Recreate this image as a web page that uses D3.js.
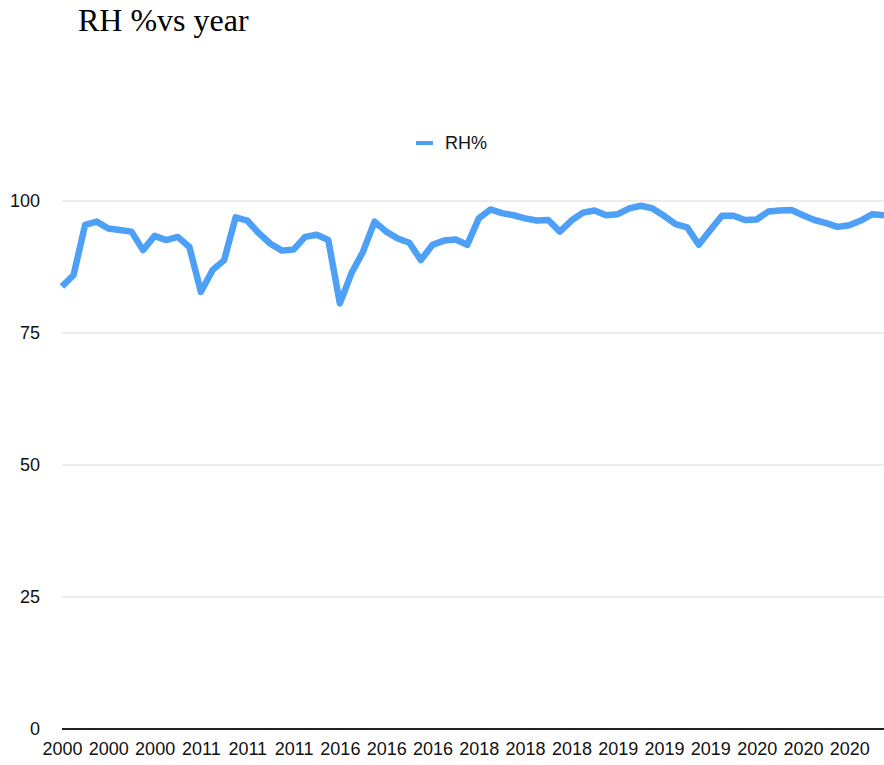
<!DOCTYPE html>
<html>
<head>
<meta charset="utf-8">
<script src="https://cdn.jsdelivr.net/npm/d3@7"></script>
<style>
  html, body { margin: 0; padding: 0; background: #fff; }
  svg { display: block; }
</style>
</head>
<body>
<svg id="chart" width="884" height="765"></svg>
<script>
const title = "RH %vs year";
const seriesName = "RH%";
const rhValues = [
  83.8, 86.0, 95.5, 96.1, 94.8, 94.5, 94.2, 90.7, 93.4, 92.6, 93.2, 91.3,
  82.8, 86.9, 88.8, 96.9, 96.3, 93.9, 91.9, 90.6, 90.8, 93.2, 93.6, 92.6,
  80.6, 86.3, 90.4, 96.1, 94.2, 92.9, 92.1, 88.8, 91.7, 92.5, 92.7, 91.7,
  96.7, 98.4, 97.7, 97.3, 96.7, 96.3, 96.4, 94.2, 96.3, 97.8, 98.2, 97.3,
  97.5, 98.6, 99.1, 98.6, 97.2, 95.6, 95.0, 91.7, 94.5, 97.2, 97.2, 96.4,
  96.5, 98.0, 98.2, 98.3, 97.3, 96.4, 95.8, 95.1, 95.4, 96.3, 97.5, 97.3
];
const tickLabels = [
  "2000", "2000", "2000", "2011", "2011", "2011", "2016", "2016", "2016",
  "2018", "2018", "2018", "2019", "2019", "2019", "2020", "2020", "2020"
];
const yTicks = [0, 25, 50, 75, 100];

(function () {
const svg = d3.select("#chart");
const mLeft = 62, mRight = 884, mTop = 201, mBottom = 729;

const x = d3.scalePoint().domain(d3.range(rhValues.length)).range([mLeft, mRight]);
const y = d3.scaleLinear().domain([0, 100]).range([mBottom, mTop]);

// title
svg.append("text")
  .attr("x", 78).attr("y", 31)
  .attr("font-family", "'Liberation Serif', 'Times New Roman', serif")
  .attr("font-size", 32).attr("fill", "#000")
  .text(title);

// gridlines
svg.append("g").selectAll("line")
  .data(yTicks.filter(d => d !== 0))
  .join("line")
  .attr("x1", mLeft).attr("x2", mRight)
  .attr("y1", d => y(d)).attr("y2", d => y(d))
  .attr("stroke", "#d9d9d9").attr("stroke-width", 1.2);

// y labels
svg.append("g").selectAll("text")
  .data(yTicks)
  .join("text")
  .attr("x", 40).attr("y", d => y(d))
  .attr("dy", "0.35em")
  .attr("text-anchor", "end")
  .attr("font-family", "'Liberation Sans', Arial, sans-serif")
  .attr("font-size", 18).attr("fill", "#111")
  .text(d => d);

// x axis
const tickIdx = tickLabels.map((_, i) => i * 4);
const xAxis = d3.axisBottom(x)
  .tickValues(tickIdx)
  .tickSize(0)
  .tickPadding(13)
  .tickFormat((d, i) => tickLabels[i]);
const gx = svg.append("g").attr("transform", `translate(0,${mBottom})`).call(xAxis);
gx.select(".domain").remove();
gx.selectAll("text")
  .attr("font-family", "'Liberation Sans', Arial, sans-serif")
  .attr("font-size", 18).attr("fill", "#111");
svg.append("line")
  .attr("x1", mLeft).attr("x2", mRight)
  .attr("y1", mBottom).attr("y2", mBottom)
  .attr("stroke", "#222").attr("stroke-width", 2);

// line
const line = d3.line().x((d, i) => x(i)).y(d => y(d));
svg.append("path")
  .datum(rhValues)
  .attr("d", line)
  .attr("fill", "none")
  .attr("stroke", "#4da0f5")
  .attr("stroke-width", 6.5)
  .attr("stroke-linejoin", "round")
  .attr("stroke-linecap", "butt");

// legend
svg.append("line")
  .attr("x1", 416).attr("x2", 433)
  .attr("y1", 143).attr("y2", 143)
  .attr("stroke", "#4da0f5").attr("stroke-width", 4);
svg.append("text")
  .attr("x", 445).attr("y", 143).attr("dy", "0.35em")
  .attr("font-family", "'Liberation Sans', Arial, sans-serif")
  .attr("font-size", 18).attr("fill", "#111")
  .text(seriesName);
})();
</script>
</body>
</html>
